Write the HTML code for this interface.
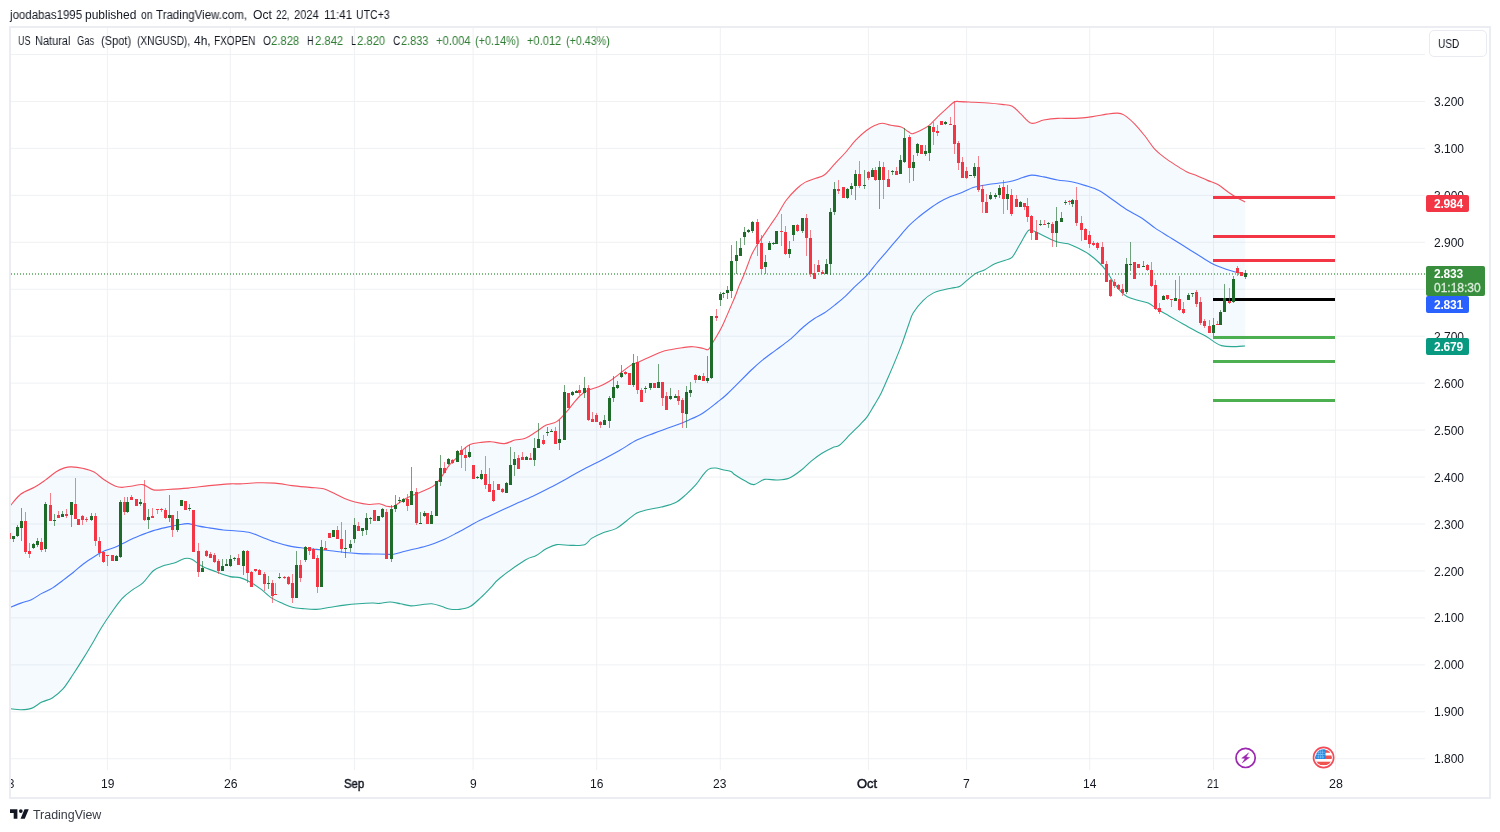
<!DOCTYPE html>
<html><head><meta charset="utf-8"><title>XNGUSD</title><style>
html,body{margin:0;padding:0;background:#fff;}
body{width:1500px;height:832px;position:relative;overflow:hidden;font-family:"Liberation Sans",sans-serif;color:#131722;}
.t{position:absolute;white-space:nowrap;font-size:12px;line-height:14px;}
.pl{position:absolute;left:1434px;font-size:12px;line-height:14px;will-change:transform;}
.tl{position:absolute;top:776px;font-size:12px;line-height:14px;transform:translateX(-50%) scaleX(0.86);white-space:nowrap;}
.tag{position:absolute;left:1426px;width:43px;height:17px;border-radius:2px;color:#fff;font-weight:bold;font-size:12px;line-height:18.4px;box-sizing:border-box;padding-left:8px;letter-spacing:-0.2px;will-change:transform;}
#clipx{position:absolute;left:11px;top:770px;width:1416px;height:27px;overflow:hidden;}
</style></head><body>
<svg width="1500" height="832" viewBox="0 0 1500 832" style="position:absolute;left:0;top:0;filter:blur(0.4px)">
<defs><clipPath id="pane"><rect x="10.5" y="27.5" width="1415" height="743"/></clipPath></defs>
<g fill="#f0f1f3">
<rect x="10" y="54.00" width="1415" height="1"/>
<rect x="10" y="100.95" width="1415" height="1"/>
<rect x="10" y="147.90" width="1415" height="1"/>
<rect x="10" y="194.85" width="1415" height="1"/>
<rect x="10" y="241.80" width="1415" height="1"/>
<rect x="10" y="288.75" width="1415" height="1"/>
<rect x="10" y="335.70" width="1415" height="1"/>
<rect x="10" y="382.65" width="1415" height="1"/>
<rect x="10" y="429.60" width="1415" height="1"/>
<rect x="10" y="476.55" width="1415" height="1"/>
<rect x="10" y="523.50" width="1415" height="1"/>
<rect x="10" y="570.45" width="1415" height="1"/>
<rect x="10" y="617.40" width="1415" height="1"/>
<rect x="10" y="664.35" width="1415" height="1"/>
<rect x="10" y="711.30" width="1415" height="1"/>
<rect x="10" y="758.25" width="1415" height="1"/>
<rect x="106.9" y="27" width="1" height="743"/>
<rect x="229.8" y="27" width="1" height="743"/>
<rect x="353.9" y="27" width="1" height="743"/>
<rect x="472.6" y="27" width="1" height="743"/>
<rect x="596.2" y="27" width="1" height="743"/>
<rect x="719.8" y="27" width="1" height="743"/>
<rect x="867.9" y="27" width="1" height="743"/>
<rect x="966.1" y="27" width="1" height="743"/>
<rect x="1089.2" y="27" width="1" height="743"/>
<rect x="1213.0" y="27" width="1" height="743"/>
<rect x="1335.0" y="27" width="1" height="743"/>
</g>
<g clip-path="url(#pane)">
<path d="M10.46,505.53 C12.2,503.61 16.85,497.1 20.91,494.03 C24.98,490.95 30.79,489.38 34.86,487.05 C38.92,484.73 41.83,482.58 45.31,480.08 C48.8,477.59 52.57,474.1 55.77,472.07 C58.96,470.03 61.87,468.76 64.48,467.88 C67.1,467.01 68.26,466.72 71.45,466.84 C74.65,466.95 79.88,467.71 83.65,468.58 C87.43,469.45 90.62,470.15 94.11,472.07 C97.59,473.98 101.08,477.76 104.57,480.08 C108.05,482.41 112.12,484.79 115.02,486.01 C117.93,487.23 119.09,487.4 121.99,487.4 C124.9,487.4 128.96,486.47 132.45,486.01 C135.94,485.54 139.42,483.98 142.91,484.61 C146.39,485.25 149.3,489.03 153.36,489.84 C157.43,490.66 161.5,489.79 167.31,489.49 C173.11,489.2 181.25,488.74 188.22,488.1 C195.19,487.46 202.16,486.36 209.13,485.66 C216.1,484.96 224.9,484.22 230.05,483.92 C235.19,483.62 235.44,484.05 240,483.87 C244.56,483.69 251.62,482.94 257.43,482.82 C263.24,482.71 269.05,482.71 274.86,483.17 C280.66,483.64 286.47,484.91 292.28,485.61 C298.09,486.31 304.48,486.83 309.71,487.35 C314.94,487.88 319.59,487.76 323.65,488.75 C327.72,489.74 330.62,491.65 334.11,493.28 C337.59,494.91 341.08,497.06 344.57,498.51 C348.05,499.96 350.96,501.01 355.02,501.99 C359.09,502.98 364.9,504.14 368.96,504.43 C373.03,504.72 376.52,503.45 379.42,503.74 C382.33,504.03 384.07,505.71 386.39,506.18 C388.72,506.64 391.04,507.22 393.36,506.52 C395.69,505.83 398.01,503.45 400.33,501.99 C402.66,500.54 404.4,499.26 407.31,497.81 C410.21,496.36 414.28,494.79 417.76,493.28 C421.25,491.77 425.31,490.2 428.22,488.75 C431.12,487.3 432.87,486.72 435.19,484.57 C437.51,482.42 439.84,479.05 442.16,475.85 C444.48,472.66 446.81,468.3 449.13,465.4 C451.46,462.49 453.78,461.04 456.1,458.42 C458.43,455.81 460.75,452.03 463.07,449.71 C465.4,447.39 467.22,445.68 470.05,444.48 C472.87,443.29 476.51,443 480,442.53 C483.49,442.07 486.89,441.52 490.96,441.69 C495.02,441.87 500.42,443.85 504.4,443.58 C508.38,443.31 511.37,440.97 514.86,440.09 C518.34,439.22 521.83,439.69 525.31,438.35 C528.8,437.02 532.28,434.28 535.77,432.08 C539.25,429.87 542.74,426.85 546.23,425.11 C549.71,423.36 553.2,423.94 556.68,421.62 C560.17,419.3 564.23,414.36 567.14,411.16 C570.04,407.97 571.79,405.18 574.11,402.45 C576.43,399.72 578.76,396.82 581.08,394.78 C583.4,392.75 585.15,391.59 588.05,390.25 C590.96,388.91 595.02,388.22 598.51,386.77 C601.99,385.31 605.48,383.69 608.96,381.54 C612.45,379.39 615.94,376.48 619.42,373.87 C622.91,371.25 626.39,367.94 629.88,365.85 C633.36,363.76 636.85,362.89 640.33,361.32 C643.82,359.75 647.31,358.01 650.79,356.44 C654.28,354.87 657.76,353.07 661.25,351.91 C664.73,350.75 668.22,350.17 671.7,349.47 C675.19,348.77 678.68,348.19 682.16,347.73 C685.65,347.26 689.13,346.57 692.62,346.68 C696.1,346.8 700.46,347.96 703.07,348.42 C705.69,348.89 706.6,350.61 708.3,349.47 C710.01,348.33 711.82,343.96 713.3,341.6 C714.78,339.24 715.77,337.78 717.2,335.3 C718.63,332.82 720.47,329.57 721.9,326.7 C723.33,323.83 724.37,321.35 725.8,318.1 C727.23,314.85 728.93,310.84 730.5,307.2 C732.07,303.56 733.78,299.77 735.2,296.25 C736.62,292.73 737.58,289.61 739,286.1 C740.42,282.59 742.3,278.72 743.75,275.2 C745.2,271.68 746.39,268.4 747.7,265 C749.01,261.6 750.18,257.93 751.6,254.8 C753.02,251.68 754.43,249.23 756.25,246.25 C758.07,243.27 760.16,240.41 762.5,236.9 C764.84,233.39 767.83,228.85 770.3,225.2 C772.77,221.55 774.65,219.16 777.3,215 C779.95,210.84 782.99,204.63 786.23,200.25 C789.46,195.88 793.49,191.77 796.68,188.75 C799.88,185.73 802.2,183.87 805.4,182.13 C808.59,180.38 812.66,179.51 815.85,178.29 C819.05,177.07 821.37,177.25 824.57,174.81 C827.76,172.37 831.54,167.37 835.02,163.65 C838.51,159.93 841.99,156.45 845.48,152.5 C848.96,148.55 852.45,143.61 855.94,139.95 C859.42,136.29 863.2,132.98 866.39,130.54 C869.59,128.1 872.49,126.53 875.11,125.31 C877.72,124.09 879.46,123.22 882.08,123.22 C884.69,123.22 887.6,124.67 890.79,125.31 C893.99,125.95 898.34,126.01 901.25,127.05 C904.15,128.1 906.36,130.48 908.22,131.59 C910.08,132.69 910.37,133.85 912.4,133.68 C914.43,133.5 917.63,131.93 920.42,130.54 C923.21,129.15 926.23,127.64 929.13,125.31 C932.04,122.99 934.94,119.39 937.85,116.6 C940.75,113.81 943.83,111.02 946.56,108.58 C949.29,106.14 951.99,103.12 954.23,101.96 C956.47,100.8 956.71,101.55 960,101.61 C963.29,101.67 969.29,102.08 973.94,102.31 C978.59,102.54 983.24,102.66 987.88,103 C992.53,103.35 997.76,103.88 1001.83,104.4 C1005.89,104.92 1009.09,104.51 1012.28,106.14 C1015.48,107.77 1017.8,111.31 1021,114.16 C1024.19,117 1027.68,122.23 1031.45,123.22 C1035.23,124.21 1039.3,120.9 1043.65,120.08 C1048.01,119.27 1052.37,118.63 1057.59,118.34 C1062.82,118.05 1069.21,118.63 1075.02,118.34 C1080.83,118.05 1087.22,117.3 1092.45,116.6 C1097.68,115.9 1102.33,114.74 1106.39,114.16 C1110.46,113.58 1113.94,113 1116.85,113.11 C1119.75,113.23 1120.92,113.11 1123.82,114.86 C1126.72,116.6 1130.79,120.08 1134.28,123.57 C1137.76,127.05 1141.25,131.41 1144.73,135.77 C1148.22,140.13 1151.7,145.93 1155.19,149.71 C1158.68,153.49 1162.16,155.81 1165.65,158.42 C1169.13,161.04 1172.62,163.19 1176.1,165.4 C1179.59,167.6 1183.07,169.93 1186.56,171.67 C1190.05,173.41 1193.53,174.4 1197.02,175.85 C1200.5,177.3 1203.99,178.93 1207.47,180.38 C1210.96,181.84 1214.44,182.59 1217.93,184.57 C1221.42,186.54 1225.19,190.03 1228.39,192.23 C1231.58,194.44 1234.31,196.18 1237.1,197.81 C1239.89,199.44 1243.78,201.3 1245.12,201.99 L1245.12,345.95 C1242.91,346.06 1235.82,346.7 1231.87,346.64 C1227.92,346.59 1224.32,346.35 1221.42,345.6 C1218.51,344.84 1216.77,343.51 1214.44,342.11 C1212.12,340.72 1210.38,338.98 1207.47,337.23 C1204.57,335.49 1201.08,333.86 1197.02,331.66 C1192.95,329.45 1187.72,326.6 1183.07,323.99 C1178.43,321.37 1173.2,318.29 1169.13,315.97 C1165.07,313.65 1162.16,312.19 1158.68,310.05 C1155.19,307.9 1151.7,304.7 1148.22,303.07 C1144.73,301.45 1141.25,301.33 1137.76,300.29 C1134.28,299.24 1130.21,298.37 1127.31,296.8 C1124.4,295.23 1122.66,293.31 1120.33,290.87 C1118.01,288.43 1115.69,285.47 1113.36,282.16 C1111.04,278.85 1108.72,274.2 1106.39,271.01 C1104.07,267.81 1102.33,265.78 1099.42,262.99 C1096.52,260.2 1092.45,256.72 1088.96,254.28 C1085.48,251.84 1081.99,250.09 1078.51,248.35 C1075.02,246.61 1071.54,244.87 1068.05,243.82 C1064.57,242.77 1061.08,243.12 1057.59,242.08 C1054.11,241.03 1050.62,239.17 1047.14,237.55 C1043.65,235.92 1039.59,233.6 1036.68,232.32 C1033.78,231.04 1031.45,229.7 1029.71,229.88 C1027.97,230.05 1027.97,230.75 1026.23,233.36 C1024.48,235.98 1021.58,241.61 1019.25,245.56 C1016.93,249.51 1014.61,254.63 1012.28,257.07 C1009.96,259.51 1008.22,259.1 1005.31,260.2 C1002.41,261.31 998.34,262.06 994.86,263.69 C991.37,265.31 987.59,268.34 984.4,269.96 C981.2,271.59 978.59,271.7 975.68,273.45 C972.78,275.19 969.59,278.27 966.97,280.42 C964.36,282.57 962.09,285.14 960,286.34 C957.91,287.55 957.11,287.08 954.44,287.64 C951.78,288.21 947.47,288.86 943.99,289.74 C940.5,290.61 937.02,291.07 933.53,292.87 C930.05,294.67 926.44,297.23 923.07,300.54 C919.7,303.85 915.64,308.96 913.31,312.74 C910.99,316.52 910.99,318.08 909.13,323.2 C907.27,328.31 904.48,337.14 902.16,343.41 C899.84,349.69 897.51,355.21 895.19,360.84 C892.87,366.47 890.54,371.88 888.22,377.22 C885.9,382.57 883.57,388.26 881.25,392.91 C878.92,397.55 876.6,401.16 874.28,405.11 C871.95,409.06 869.63,413.41 867.31,416.61 C864.98,419.8 863.24,421.26 860.33,424.28 C857.43,427.3 853.36,431.25 849.88,434.73 C846.39,438.22 842.33,443.04 839.42,445.19 C836.52,447.34 835.35,446.29 832.45,447.63 C829.55,448.97 825.48,451 821.99,453.21 C818.51,455.41 815.02,458.03 811.54,460.87 C808.05,463.72 804.86,467.38 801.08,470.29 C797.3,473.19 792.95,476.68 788.88,478.3 C784.81,479.93 780.75,479.87 776.68,480.05 C772.62,480.22 768.26,478.59 764.48,479.35 C760.71,480.1 757.22,484.29 754.03,484.58 C750.83,484.87 748.51,482.72 745.31,481.09 C742.12,479.46 737.25,476.42 734.86,474.82 C732.46,473.21 732.77,472.26 730.96,471.46 C729.15,470.67 726.6,470.65 723.99,470.07 C721.37,469.49 717.89,468.09 715.27,467.98 C712.66,467.86 710.34,468.21 708.3,469.37 C706.27,470.53 705.11,472.45 703.07,474.95 C701.04,477.45 699.01,481.05 696.1,484.36 C693.2,487.67 689.13,491.74 685.65,494.82 C682.16,497.9 679.26,500.8 675.19,502.83 C671.12,504.87 665.9,505.85 661.25,507.02 C656.6,508.18 651.37,508.82 647.31,509.8 C643.24,510.79 640.33,511.08 636.85,512.94 C633.36,514.8 629.88,518.34 626.39,520.96 C622.91,523.57 620,526.59 615.94,528.63 C611.87,530.66 606.06,531.53 601.99,533.16 C597.93,534.78 594.44,536.47 591.54,538.39 C588.63,540.3 588.05,543.5 584.57,544.66 C581.08,545.82 575.27,545.36 570.62,545.36 C565.98,545.36 560.75,544.08 556.68,544.66 C552.62,545.24 549.71,546.98 546.23,548.84 C542.74,550.7 539.25,553.95 535.77,555.81 C532.28,557.67 531.27,556.3 525.31,560 C519.35,563.69 505.75,573.41 500.02,577.98 C494.3,582.54 494.21,584.08 490.96,587.39 C487.71,590.7 483.99,594.65 480.5,597.85 C477.02,601.04 473.53,604.64 470.05,606.56 C466.56,608.48 463.07,608.94 459.59,609.35 C456.1,609.75 452.04,609.46 449.13,609 C446.23,608.53 445.07,607.43 442.16,606.56 C439.26,605.69 435.19,604.06 431.7,603.77 C428.22,603.48 424.73,604.47 421.25,604.82 C417.76,605.17 414.28,606.04 410.79,605.86 C407.31,605.69 403.82,604.41 400.33,603.77 C396.85,603.13 393.36,602.09 389.88,602.03 C386.39,601.97 382.33,603.25 379.42,603.42 C376.52,603.6 375.94,603.02 372.45,603.07 C368.96,603.13 363.16,603.42 358.51,603.77 C353.86,604.12 349.21,604.58 344.57,605.17 C339.92,605.75 335.27,606.56 330.62,607.26 C325.98,607.95 321.33,609.12 316.68,609.35 C312.03,609.58 306.81,609 302.74,608.65 C298.67,608.3 295.77,608.19 292.28,607.26 C288.8,606.33 285.31,604.64 281.83,603.07 C278.34,601.51 274.86,600.17 271.37,597.85 C267.88,595.52 264.4,591.75 260.91,589.13 C257.43,586.52 253.94,584.08 250.46,582.16 C246.97,580.24 243.4,578.55 240,577.63 C236.6,576.71 234.03,577.61 230.05,576.63 C226.06,575.65 220.75,573.5 216.1,571.75 C211.46,570.01 206.23,568.27 202.16,566.18 C198.09,564.09 194.61,560.48 191.7,559.21 C188.8,557.93 187.64,557.87 184.73,558.51 C181.83,559.15 177.76,561.88 174.28,563.04 C170.79,564.2 167.31,564.2 163.82,565.48 C160.33,566.76 156.85,567.8 153.36,570.71 C149.88,573.61 146.39,579.71 142.91,582.91 C139.42,586.1 135.94,587.26 132.45,589.88 C128.96,592.49 125.48,594.82 121.99,598.59 C118.51,602.37 115.02,607.6 111.54,612.53 C108.05,617.47 103.99,623.57 101.08,628.22 C98.18,632.87 97.01,635.48 94.11,640.42 C91.2,645.36 87.14,652.21 83.65,657.85 C80.17,663.48 76.68,669 73.2,674.23 C69.71,679.46 66.23,685.27 62.74,689.22 C59.25,693.17 55.77,695.78 52.28,697.93 C48.8,700.08 45.31,700.37 41.83,702.11 C38.34,703.86 34.86,707.11 31.37,708.39 C27.88,709.66 24.4,709.72 20.91,709.78 C17.43,709.84 12.2,708.91 10.46,708.73 Z" fill="#2196f3" fill-opacity="0.05" stroke="none"/>
<path d="M10.46,505.53 C12.2,503.61 16.85,497.1 20.91,494.03 C24.98,490.95 30.79,489.38 34.86,487.05 C38.92,484.73 41.83,482.58 45.31,480.08 C48.8,477.59 52.57,474.1 55.77,472.07 C58.96,470.03 61.87,468.76 64.48,467.88 C67.1,467.01 68.26,466.72 71.45,466.84 C74.65,466.95 79.88,467.71 83.65,468.58 C87.43,469.45 90.62,470.15 94.11,472.07 C97.59,473.98 101.08,477.76 104.57,480.08 C108.05,482.41 112.12,484.79 115.02,486.01 C117.93,487.23 119.09,487.4 121.99,487.4 C124.9,487.4 128.96,486.47 132.45,486.01 C135.94,485.54 139.42,483.98 142.91,484.61 C146.39,485.25 149.3,489.03 153.36,489.84 C157.43,490.66 161.5,489.79 167.31,489.49 C173.11,489.2 181.25,488.74 188.22,488.1 C195.19,487.46 202.16,486.36 209.13,485.66 C216.1,484.96 224.9,484.22 230.05,483.92 C235.19,483.62 235.44,484.05 240,483.87 C244.56,483.69 251.62,482.94 257.43,482.82 C263.24,482.71 269.05,482.71 274.86,483.17 C280.66,483.64 286.47,484.91 292.28,485.61 C298.09,486.31 304.48,486.83 309.71,487.35 C314.94,487.88 319.59,487.76 323.65,488.75 C327.72,489.74 330.62,491.65 334.11,493.28 C337.59,494.91 341.08,497.06 344.57,498.51 C348.05,499.96 350.96,501.01 355.02,501.99 C359.09,502.98 364.9,504.14 368.96,504.43 C373.03,504.72 376.52,503.45 379.42,503.74 C382.33,504.03 384.07,505.71 386.39,506.18 C388.72,506.64 391.04,507.22 393.36,506.52 C395.69,505.83 398.01,503.45 400.33,501.99 C402.66,500.54 404.4,499.26 407.31,497.81 C410.21,496.36 414.28,494.79 417.76,493.28 C421.25,491.77 425.31,490.2 428.22,488.75 C431.12,487.3 432.87,486.72 435.19,484.57 C437.51,482.42 439.84,479.05 442.16,475.85 C444.48,472.66 446.81,468.3 449.13,465.4 C451.46,462.49 453.78,461.04 456.1,458.42 C458.43,455.81 460.75,452.03 463.07,449.71 C465.4,447.39 467.22,445.68 470.05,444.48 C472.87,443.29 476.51,443 480,442.53 C483.49,442.07 486.89,441.52 490.96,441.69 C495.02,441.87 500.42,443.85 504.4,443.58 C508.38,443.31 511.37,440.97 514.86,440.09 C518.34,439.22 521.83,439.69 525.31,438.35 C528.8,437.02 532.28,434.28 535.77,432.08 C539.25,429.87 542.74,426.85 546.23,425.11 C549.71,423.36 553.2,423.94 556.68,421.62 C560.17,419.3 564.23,414.36 567.14,411.16 C570.04,407.97 571.79,405.18 574.11,402.45 C576.43,399.72 578.76,396.82 581.08,394.78 C583.4,392.75 585.15,391.59 588.05,390.25 C590.96,388.91 595.02,388.22 598.51,386.77 C601.99,385.31 605.48,383.69 608.96,381.54 C612.45,379.39 615.94,376.48 619.42,373.87 C622.91,371.25 626.39,367.94 629.88,365.85 C633.36,363.76 636.85,362.89 640.33,361.32 C643.82,359.75 647.31,358.01 650.79,356.44 C654.28,354.87 657.76,353.07 661.25,351.91 C664.73,350.75 668.22,350.17 671.7,349.47 C675.19,348.77 678.68,348.19 682.16,347.73 C685.65,347.26 689.13,346.57 692.62,346.68 C696.1,346.8 700.46,347.96 703.07,348.42 C705.69,348.89 706.6,350.61 708.3,349.47 C710.01,348.33 711.82,343.96 713.3,341.6 C714.78,339.24 715.77,337.78 717.2,335.3 C718.63,332.82 720.47,329.57 721.9,326.7 C723.33,323.83 724.37,321.35 725.8,318.1 C727.23,314.85 728.93,310.84 730.5,307.2 C732.07,303.56 733.78,299.77 735.2,296.25 C736.62,292.73 737.58,289.61 739,286.1 C740.42,282.59 742.3,278.72 743.75,275.2 C745.2,271.68 746.39,268.4 747.7,265 C749.01,261.6 750.18,257.93 751.6,254.8 C753.02,251.68 754.43,249.23 756.25,246.25 C758.07,243.27 760.16,240.41 762.5,236.9 C764.84,233.39 767.83,228.85 770.3,225.2 C772.77,221.55 774.65,219.16 777.3,215 C779.95,210.84 782.99,204.63 786.23,200.25 C789.46,195.88 793.49,191.77 796.68,188.75 C799.88,185.73 802.2,183.87 805.4,182.13 C808.59,180.38 812.66,179.51 815.85,178.29 C819.05,177.07 821.37,177.25 824.57,174.81 C827.76,172.37 831.54,167.37 835.02,163.65 C838.51,159.93 841.99,156.45 845.48,152.5 C848.96,148.55 852.45,143.61 855.94,139.95 C859.42,136.29 863.2,132.98 866.39,130.54 C869.59,128.1 872.49,126.53 875.11,125.31 C877.72,124.09 879.46,123.22 882.08,123.22 C884.69,123.22 887.6,124.67 890.79,125.31 C893.99,125.95 898.34,126.01 901.25,127.05 C904.15,128.1 906.36,130.48 908.22,131.59 C910.08,132.69 910.37,133.85 912.4,133.68 C914.43,133.5 917.63,131.93 920.42,130.54 C923.21,129.15 926.23,127.64 929.13,125.31 C932.04,122.99 934.94,119.39 937.85,116.6 C940.75,113.81 943.83,111.02 946.56,108.58 C949.29,106.14 951.99,103.12 954.23,101.96 C956.47,100.8 956.71,101.55 960,101.61 C963.29,101.67 969.29,102.08 973.94,102.31 C978.59,102.54 983.24,102.66 987.88,103 C992.53,103.35 997.76,103.88 1001.83,104.4 C1005.89,104.92 1009.09,104.51 1012.28,106.14 C1015.48,107.77 1017.8,111.31 1021,114.16 C1024.19,117 1027.68,122.23 1031.45,123.22 C1035.23,124.21 1039.3,120.9 1043.65,120.08 C1048.01,119.27 1052.37,118.63 1057.59,118.34 C1062.82,118.05 1069.21,118.63 1075.02,118.34 C1080.83,118.05 1087.22,117.3 1092.45,116.6 C1097.68,115.9 1102.33,114.74 1106.39,114.16 C1110.46,113.58 1113.94,113 1116.85,113.11 C1119.75,113.23 1120.92,113.11 1123.82,114.86 C1126.72,116.6 1130.79,120.08 1134.28,123.57 C1137.76,127.05 1141.25,131.41 1144.73,135.77 C1148.22,140.13 1151.7,145.93 1155.19,149.71 C1158.68,153.49 1162.16,155.81 1165.65,158.42 C1169.13,161.04 1172.62,163.19 1176.1,165.4 C1179.59,167.6 1183.07,169.93 1186.56,171.67 C1190.05,173.41 1193.53,174.4 1197.02,175.85 C1200.5,177.3 1203.99,178.93 1207.47,180.38 C1210.96,181.84 1214.44,182.59 1217.93,184.57 C1221.42,186.54 1225.19,190.03 1228.39,192.23 C1231.58,194.44 1234.31,196.18 1237.1,197.81 C1239.89,199.44 1243.78,201.3 1245.12,201.99" fill="none" stroke="#f23645" stroke-opacity="0.85" stroke-width="1.1"/>
<path d="M10.46,708.73 C12.2,708.91 17.43,709.84 20.91,709.78 C24.4,709.72 27.88,709.66 31.37,708.39 C34.86,707.11 38.34,703.86 41.83,702.11 C45.31,700.37 48.8,700.08 52.28,697.93 C55.77,695.78 59.25,693.17 62.74,689.22 C66.23,685.27 69.71,679.46 73.2,674.23 C76.68,669 80.17,663.48 83.65,657.85 C87.14,652.21 91.2,645.36 94.11,640.42 C97.01,635.48 98.18,632.87 101.08,628.22 C103.99,623.57 108.05,617.47 111.54,612.53 C115.02,607.6 118.51,602.37 121.99,598.59 C125.48,594.82 128.96,592.49 132.45,589.88 C135.94,587.26 139.42,586.1 142.91,582.91 C146.39,579.71 149.88,573.61 153.36,570.71 C156.85,567.8 160.33,566.76 163.82,565.48 C167.31,564.2 170.79,564.2 174.28,563.04 C177.76,561.88 181.83,559.15 184.73,558.51 C187.64,557.87 188.8,557.93 191.7,559.21 C194.61,560.48 198.09,564.09 202.16,566.18 C206.23,568.27 211.46,570.01 216.1,571.75 C220.75,573.5 226.06,575.65 230.05,576.63 C234.03,577.61 236.6,576.71 240,577.63 C243.4,578.55 246.97,580.24 250.46,582.16 C253.94,584.08 257.43,586.52 260.91,589.13 C264.4,591.75 267.88,595.52 271.37,597.85 C274.86,600.17 278.34,601.51 281.83,603.07 C285.31,604.64 288.8,606.33 292.28,607.26 C295.77,608.19 298.67,608.3 302.74,608.65 C306.81,609 312.03,609.58 316.68,609.35 C321.33,609.12 325.98,607.95 330.62,607.26 C335.27,606.56 339.92,605.75 344.57,605.17 C349.21,604.58 353.86,604.12 358.51,603.77 C363.16,603.42 368.96,603.13 372.45,603.07 C375.94,603.02 376.52,603.6 379.42,603.42 C382.33,603.25 386.39,601.97 389.88,602.03 C393.36,602.09 396.85,603.13 400.33,603.77 C403.82,604.41 407.31,605.69 410.79,605.86 C414.28,606.04 417.76,605.17 421.25,604.82 C424.73,604.47 428.22,603.48 431.7,603.77 C435.19,604.06 439.26,605.69 442.16,606.56 C445.07,607.43 446.23,608.53 449.13,609 C452.04,609.46 456.1,609.75 459.59,609.35 C463.07,608.94 466.56,608.48 470.05,606.56 C473.53,604.64 477.02,601.04 480.5,597.85 C483.99,594.65 487.71,590.7 490.96,587.39 C494.21,584.08 494.3,582.54 500.02,577.98 C505.75,573.41 519.35,563.69 525.31,560 C531.27,556.3 532.28,557.67 535.77,555.81 C539.25,553.95 542.74,550.7 546.23,548.84 C549.71,546.98 552.62,545.24 556.68,544.66 C560.75,544.08 565.98,545.36 570.62,545.36 C575.27,545.36 581.08,545.82 584.57,544.66 C588.05,543.5 588.63,540.3 591.54,538.39 C594.44,536.47 597.93,534.78 601.99,533.16 C606.06,531.53 611.87,530.66 615.94,528.63 C620,526.59 622.91,523.57 626.39,520.96 C629.88,518.34 633.36,514.8 636.85,512.94 C640.33,511.08 643.24,510.79 647.31,509.8 C651.37,508.82 656.6,508.18 661.25,507.02 C665.9,505.85 671.12,504.87 675.19,502.83 C679.26,500.8 682.16,497.9 685.65,494.82 C689.13,491.74 693.2,487.67 696.1,484.36 C699.01,481.05 701.04,477.45 703.07,474.95 C705.11,472.45 706.27,470.53 708.3,469.37 C710.34,468.21 712.66,467.86 715.27,467.98 C717.89,468.09 721.37,469.49 723.99,470.07 C726.6,470.65 729.15,470.67 730.96,471.46 C732.77,472.26 732.46,473.21 734.86,474.82 C737.25,476.42 742.12,479.46 745.31,481.09 C748.51,482.72 750.83,484.87 754.03,484.58 C757.22,484.29 760.71,480.1 764.48,479.35 C768.26,478.59 772.62,480.22 776.68,480.05 C780.75,479.87 784.81,479.93 788.88,478.3 C792.95,476.68 797.3,473.19 801.08,470.29 C804.86,467.38 808.05,463.72 811.54,460.87 C815.02,458.03 818.51,455.41 821.99,453.21 C825.48,451 829.55,448.97 832.45,447.63 C835.35,446.29 836.52,447.34 839.42,445.19 C842.33,443.04 846.39,438.22 849.88,434.73 C853.36,431.25 857.43,427.3 860.33,424.28 C863.24,421.26 864.98,419.8 867.31,416.61 C869.63,413.41 871.95,409.06 874.28,405.11 C876.6,401.16 878.92,397.55 881.25,392.91 C883.57,388.26 885.9,382.57 888.22,377.22 C890.54,371.88 892.87,366.47 895.19,360.84 C897.51,355.21 899.84,349.69 902.16,343.41 C904.48,337.14 907.27,328.31 909.13,323.2 C910.99,318.08 910.99,316.52 913.31,312.74 C915.64,308.96 919.7,303.85 923.07,300.54 C926.44,297.23 930.05,294.67 933.53,292.87 C937.02,291.07 940.5,290.61 943.99,289.74 C947.47,288.86 951.78,288.21 954.44,287.64 C957.11,287.08 957.91,287.55 960,286.34 C962.09,285.14 964.36,282.57 966.97,280.42 C969.59,278.27 972.78,275.19 975.68,273.45 C978.59,271.7 981.2,271.59 984.4,269.96 C987.59,268.34 991.37,265.31 994.86,263.69 C998.34,262.06 1002.41,261.31 1005.31,260.2 C1008.22,259.1 1009.96,259.51 1012.28,257.07 C1014.61,254.63 1016.93,249.51 1019.25,245.56 C1021.58,241.61 1024.48,235.98 1026.23,233.36 C1027.97,230.75 1027.97,230.05 1029.71,229.88 C1031.45,229.7 1033.78,231.04 1036.68,232.32 C1039.59,233.6 1043.65,235.92 1047.14,237.55 C1050.62,239.17 1054.11,241.03 1057.59,242.08 C1061.08,243.12 1064.57,242.77 1068.05,243.82 C1071.54,244.87 1075.02,246.61 1078.51,248.35 C1081.99,250.09 1085.48,251.84 1088.96,254.28 C1092.45,256.72 1096.52,260.2 1099.42,262.99 C1102.33,265.78 1104.07,267.81 1106.39,271.01 C1108.72,274.2 1111.04,278.85 1113.36,282.16 C1115.69,285.47 1118.01,288.43 1120.33,290.87 C1122.66,293.31 1124.4,295.23 1127.31,296.8 C1130.21,298.37 1134.28,299.24 1137.76,300.29 C1141.25,301.33 1144.73,301.45 1148.22,303.07 C1151.7,304.7 1155.19,307.9 1158.68,310.05 C1162.16,312.19 1165.07,313.65 1169.13,315.97 C1173.2,318.29 1178.43,321.37 1183.07,323.99 C1187.72,326.6 1192.95,329.45 1197.02,331.66 C1201.08,333.86 1204.57,335.49 1207.47,337.23 C1210.38,338.98 1212.12,340.72 1214.44,342.11 C1216.77,343.51 1218.51,344.84 1221.42,345.6 C1224.32,346.35 1227.92,346.59 1231.87,346.64 C1235.82,346.7 1242.91,346.06 1245.12,345.95" fill="none" stroke="#089981" stroke-opacity="0.85" stroke-width="1.1"/>
<path d="M10.46,607.31 C12.2,606.61 17.43,604.4 20.91,603.12 C24.4,601.85 27.88,601.26 31.37,599.64 C34.86,598.01 38.34,595.28 41.83,593.36 C45.31,591.45 48.8,590.28 52.28,588.14 C55.77,585.99 59.25,583.08 62.74,580.47 C66.23,577.85 69.71,575.24 73.2,572.45 C76.68,569.66 80.17,566.35 83.65,563.74 C87.14,561.12 90.62,558.91 94.11,556.77 C97.59,554.62 101.08,552.41 104.57,550.84 C108.05,549.27 111.54,548.81 115.02,547.35 C118.51,545.9 121.41,544.04 125.48,542.13 C129.55,540.21 134.77,537.77 139.42,535.85 C144.07,533.94 148.72,532.08 153.36,530.62 C158.01,529.17 163.24,528.07 167.31,527.14 C171.37,526.21 174.28,525.63 177.76,525.05 C181.25,524.47 184.73,523.48 188.22,523.65 C191.7,523.83 195.19,525.4 198.68,526.09 C202.16,526.79 205.07,527.2 209.13,527.84 C213.2,528.47 218.43,529.4 223.07,529.93 C227.72,530.45 232.45,530.52 237.02,530.97 C241.58,531.43 246.47,531.69 250.46,532.67 C254.44,533.65 256.85,535.28 260.91,536.85 C264.98,538.42 270.21,540.57 274.86,542.08 C279.5,543.59 284.15,544.92 288.8,545.91 C293.44,546.9 298.09,547.42 302.74,548 C307.39,548.58 312.03,548.93 316.68,549.4 C321.33,549.86 325.98,550.27 330.62,550.79 C335.27,551.31 339.92,552.07 344.57,552.53 C349.21,553 353.86,553.35 358.51,553.58 C363.16,553.81 367.8,553.81 372.45,553.93 C377.1,554.04 382.91,554.22 386.39,554.28 C389.88,554.33 390.46,554.74 393.36,554.28 C396.27,553.81 400.33,552.36 403.82,551.49 C407.31,550.62 410.21,550.04 414.28,549.05 C418.34,548.06 423.57,547.02 428.22,545.56 C432.87,544.11 437.51,542.37 442.16,540.33 C446.81,538.3 451.46,535.8 456.1,533.36 C460.75,530.92 466.06,527.88 470.05,525.7 C474.03,523.51 475.44,522.5 480,520.26 C484.56,518.02 491.62,514.92 497.43,512.24 C503.24,509.57 509.05,506.84 514.86,504.23 C520.66,501.61 526.47,499.29 532.28,496.56 C538.09,493.83 543.9,490.87 549.71,487.85 C555.52,484.83 561.33,481.63 567.14,478.43 C572.95,475.24 578.76,471.75 584.57,468.68 C590.38,465.6 596.18,462.98 601.99,459.96 C607.8,456.94 613.61,453.86 619.42,450.55 C625.23,447.24 631.04,443 636.85,440.09 C642.66,437.19 648.47,435.33 654.28,433.12 C660.09,430.92 665.9,429.06 671.7,426.85 C677.51,424.64 683.9,422.2 689.13,419.88 C694.36,417.55 698.43,415.81 703.07,412.91 C707.72,410 712.95,405.65 717.02,402.45 C721.08,399.26 721.75,399.15 727.47,393.74 C733.2,388.33 745.64,375.52 751.37,370 C757.1,364.47 757.76,363.9 761.83,360.59 C765.89,357.27 771.12,353.61 775.77,350.13 C780.42,346.64 785.06,343.56 789.71,339.67 C794.36,335.78 799.59,330.26 803.65,326.78 C807.72,323.29 810.62,321.08 814.11,318.76 C817.59,316.44 821.08,315.16 824.57,312.83 C828.05,310.51 831.54,307.61 835.02,304.82 C838.51,302.03 841.99,299.3 845.48,296.1 C848.96,292.91 852.45,289.02 855.94,285.65 C859.42,282.28 862.91,279.66 866.39,275.89 C869.88,272.11 873.36,267.17 876.85,262.99 C880.33,258.81 883.82,254.86 887.31,250.79 C890.79,246.72 894.28,242.66 897.76,238.59 C901.25,234.53 904.73,229.99 908.22,226.39 C911.7,222.79 915.19,219.89 918.68,216.98 C922.16,214.08 925.65,211.46 929.13,208.96 C932.62,206.47 936.1,204.03 939.59,201.99 C943.07,199.96 946.64,198.22 950.05,196.77 C953.45,195.31 956.02,194.85 960,193.28 C963.98,191.71 969.29,188.81 973.94,187.35 C978.59,185.9 983.24,185.32 987.88,184.57 C992.53,183.81 997.76,183.4 1001.83,182.82 C1005.89,182.24 1008.8,181.95 1012.28,181.08 C1015.77,180.21 1019.54,178.58 1022.74,177.59 C1025.93,176.61 1027.97,175.27 1031.45,175.16 C1034.94,175.04 1039.3,176.08 1043.65,176.9 C1048.01,177.71 1052.95,179.22 1057.59,180.03 C1062.24,180.85 1066.89,180.85 1071.54,181.78 C1076.18,182.71 1080.83,184.1 1085.48,185.61 C1090.13,187.12 1094.77,188.4 1099.42,190.84 C1104.07,193.28 1108.72,197.06 1113.36,200.25 C1118.01,203.45 1122.66,207.11 1127.31,210.01 C1131.95,212.92 1136.6,214.66 1141.25,217.68 C1145.9,220.7 1150.54,224.94 1155.19,228.14 C1159.84,231.33 1164.48,233.94 1169.13,236.85 C1173.78,239.75 1178.43,242.66 1183.07,245.56 C1187.72,248.47 1192.37,251.37 1197.02,254.28 C1201.66,257.18 1206.89,260.78 1210.96,262.99 C1215.02,265.2 1217.93,266.19 1221.42,267.52 C1224.9,268.86 1228.97,270.14 1231.87,271.01 C1234.78,271.88 1236.64,272.23 1238.84,272.75 C1241.05,273.27 1244.07,273.91 1245.12,274.14" fill="none" stroke="#2962ff" stroke-opacity="0.85" stroke-width="1.1"/>
<line x1="11" y1="274" x2="1426" y2="274" stroke="#55a35a" stroke-width="1.5" stroke-dasharray="1 2"/>
<g shape-rendering="crispEdges">
<rect x="1213" y="196" width="122" height="3" fill="#f23645"/>
<rect x="1213" y="235" width="122" height="3" fill="#f23645"/>
<rect x="1213" y="259" width="122" height="3" fill="#f23645"/>
<rect x="1213" y="298" width="122" height="3" fill="#000"/>
<rect x="1213" y="336" width="122" height="3" fill="#4caf50"/>
<rect x="1213" y="360" width="122" height="3" fill="#4caf50"/>
<rect x="1213" y="399" width="122" height="3" fill="#4caf50"/>
</g>
<g shape-rendering="crispEdges" opacity="0.62"><rect x="13" y="536" width="1" height="6" fill="#1e6b2a"/><rect x="17" y="525" width="1" height="12" fill="#1e6b2a"/><rect x="21" y="508" width="1" height="33" fill="#1e6b2a"/><rect x="25" y="512" width="1" height="42" fill="#f23645"/><rect x="29" y="543" width="1" height="15" fill="#f23645"/><rect x="33" y="543" width="1" height="6" fill="#1e6b2a"/><rect x="37" y="538" width="1" height="9" fill="#1e6b2a"/><rect x="41" y="538" width="1" height="14" fill="#f23645"/><rect x="45" y="502" width="1" height="50" fill="#1e6b2a"/><rect x="50" y="493" width="1" height="28" fill="#f23645"/><rect x="54" y="514" width="1" height="12" fill="#1e6b2a"/><rect x="58" y="511" width="1" height="7" fill="#f23645"/><rect x="62" y="511" width="1" height="6" fill="#1e6b2a"/><rect x="66" y="509" width="1" height="9" fill="#f23645"/><rect x="71" y="502" width="1" height="25" fill="#1e6b2a"/><rect x="75" y="478" width="1" height="41" fill="#f23645"/><rect x="82" y="515" width="1" height="10" fill="#f23645"/><rect x="86" y="517" width="1" height="5" fill="#f23645"/><rect x="91" y="513" width="1" height="8" fill="#1e6b2a"/><rect x="95" y="513" width="1" height="33" fill="#f23645"/><rect x="99" y="537" width="1" height="20" fill="#f23645"/><rect x="103" y="551" width="1" height="12" fill="#f23645"/><rect x="107" y="555" width="1" height="11" fill="#f23645"/><rect x="116" y="555" width="1" height="6" fill="#1e6b2a"/><rect x="120" y="500" width="1" height="58" fill="#1e6b2a"/><rect x="124" y="497" width="1" height="18" fill="#f23645"/><rect x="127" y="497" width="1" height="16" fill="#1e6b2a"/><rect x="131" y="495" width="1" height="5" fill="#f23645"/><rect x="140" y="499" width="1" height="7" fill="#1e6b2a"/><rect x="144" y="480" width="1" height="41" fill="#f23645"/><rect x="148" y="509" width="1" height="20" fill="#1e6b2a"/><rect x="152" y="508" width="1" height="10" fill="#f23645"/><rect x="157" y="509" width="1" height="5" fill="#f23645"/><rect x="161" y="508" width="1" height="4" fill="#f23645"/><rect x="165" y="508" width="1" height="11" fill="#f23645"/><rect x="169" y="495" width="1" height="27" fill="#1e6b2a"/><rect x="172" y="515" width="1" height="22" fill="#f23645"/><rect x="177" y="511" width="1" height="21" fill="#1e6b2a"/><rect x="189" y="504" width="1" height="7" fill="#1e6b2a"/><rect x="198" y="543" width="1" height="34" fill="#f23645"/><rect x="202" y="561" width="1" height="11" fill="#1e6b2a"/><rect x="206" y="550" width="1" height="7" fill="#f23645"/><rect x="210" y="552" width="1" height="6" fill="#f23645"/><rect x="214" y="553" width="1" height="10" fill="#f23645"/><rect x="218" y="559" width="1" height="15" fill="#f23645"/><rect x="222" y="559" width="1" height="12" fill="#1e6b2a"/><rect x="226" y="559" width="1" height="7" fill="#1e6b2a"/><rect x="230" y="555" width="1" height="12" fill="#1e6b2a"/><rect x="234" y="557" width="1" height="4" fill="#1e6b2a"/><rect x="238" y="554" width="1" height="11" fill="#f23645"/><rect x="243" y="550" width="1" height="25" fill="#1e6b2a"/><rect x="247" y="550" width="1" height="33" fill="#f23645"/><rect x="251" y="571" width="1" height="16" fill="#f23645"/><rect x="255" y="569" width="1" height="3" fill="#f23645"/><rect x="259" y="569" width="1" height="6" fill="#f23645"/><rect x="264" y="572" width="1" height="19" fill="#f23645"/><rect x="268" y="576" width="1" height="13" fill="#1e6b2a"/><rect x="272" y="580" width="1" height="23" fill="#f23645"/><rect x="275" y="583" width="1" height="12" fill="#f23645"/><rect x="279" y="573" width="1" height="6" fill="#1e6b2a"/><rect x="284" y="576" width="1" height="3" fill="#f23645"/><rect x="288" y="576" width="1" height="9" fill="#f23645"/><rect x="292" y="574" width="1" height="29" fill="#f23645"/><rect x="296" y="551" width="1" height="47" fill="#1e6b2a"/><rect x="300" y="560" width="1" height="22" fill="#f23645"/><rect x="305" y="546" width="1" height="16" fill="#1e6b2a"/><rect x="309" y="547" width="1" height="8" fill="#f23645"/><rect x="313" y="548" width="1" height="11" fill="#f23645"/><rect x="317" y="555" width="1" height="38" fill="#f23645"/><rect x="321" y="540" width="1" height="47" fill="#1e6b2a"/><rect x="325" y="541" width="1" height="9" fill="#f23645"/><rect x="337" y="526" width="1" height="13" fill="#f23645"/><rect x="341" y="522" width="1" height="31" fill="#f23645"/><rect x="345" y="530" width="1" height="28" fill="#1e6b2a"/><rect x="350" y="540" width="1" height="12" fill="#1e6b2a"/><rect x="354" y="518" width="1" height="25" fill="#1e6b2a"/><rect x="358" y="522" width="1" height="9" fill="#f23645"/><rect x="362" y="528" width="1" height="8" fill="#1e6b2a"/><rect x="366" y="513" width="1" height="22" fill="#1e6b2a"/><rect x="370" y="517" width="1" height="7" fill="#1e6b2a"/><rect x="382" y="508" width="1" height="10" fill="#1e6b2a"/><rect x="386" y="509" width="1" height="50" fill="#f23645"/><rect x="391" y="505" width="1" height="57" fill="#1e6b2a"/><rect x="395" y="495" width="1" height="17" fill="#1e6b2a"/><rect x="399" y="497" width="1" height="6" fill="#1e6b2a"/><rect x="403" y="498" width="1" height="5" fill="#1e6b2a"/><rect x="407" y="494" width="1" height="17" fill="#f23645"/><rect x="411" y="467" width="1" height="38" fill="#1e6b2a"/><rect x="416" y="488" width="1" height="37" fill="#f23645"/><rect x="420" y="512" width="1" height="12" fill="#1e6b2a"/><rect x="424" y="511" width="1" height="6" fill="#1e6b2a"/><rect x="431" y="511" width="1" height="13" fill="#1e6b2a"/><rect x="440" y="455" width="1" height="31" fill="#1e6b2a"/><rect x="444" y="462" width="1" height="11" fill="#f23645"/><rect x="448" y="458" width="1" height="7" fill="#1e6b2a"/><rect x="452" y="459" width="1" height="5" fill="#f23645"/><rect x="457" y="450" width="1" height="12" fill="#1e6b2a"/><rect x="461" y="446" width="1" height="22" fill="#f23645"/><rect x="465" y="447" width="1" height="24" fill="#f23645"/><rect x="469" y="445" width="1" height="13" fill="#1e6b2a"/><rect x="477" y="476" width="1" height="3" fill="#1e6b2a"/><rect x="481" y="470" width="1" height="10" fill="#1e6b2a"/><rect x="485" y="456" width="1" height="33" fill="#f23645"/><rect x="489" y="468" width="1" height="24" fill="#f23645"/><rect x="493" y="481" width="1" height="21" fill="#f23645"/><rect x="502" y="488" width="1" height="5" fill="#f23645"/><rect x="506" y="482" width="1" height="11" fill="#1e6b2a"/><rect x="510" y="447" width="1" height="38" fill="#1e6b2a"/><rect x="514" y="452" width="1" height="24" fill="#1e6b2a"/><rect x="518" y="455" width="1" height="14" fill="#f23645"/><rect x="522" y="452" width="1" height="8" fill="#f23645"/><rect x="526" y="456" width="1" height="4" fill="#1e6b2a"/><rect x="530" y="453" width="1" height="7" fill="#f23645"/><rect x="534" y="438" width="1" height="28" fill="#1e6b2a"/><rect x="538" y="423" width="1" height="25" fill="#1e6b2a"/><rect x="543" y="435" width="1" height="10" fill="#f23645"/><rect x="547" y="427" width="1" height="9" fill="#1e6b2a"/><rect x="551" y="429" width="1" height="3" fill="#1e6b2a"/><rect x="555" y="427" width="1" height="17" fill="#f23645"/><rect x="559" y="420" width="1" height="30" fill="#1e6b2a"/><rect x="564" y="385" width="1" height="55" fill="#1e6b2a"/><rect x="572" y="391" width="1" height="5" fill="#1e6b2a"/><rect x="576" y="390" width="1" height="3" fill="#1e6b2a"/><rect x="579" y="385" width="1" height="10" fill="#f23645"/><rect x="584" y="377" width="1" height="21" fill="#1e6b2a"/><rect x="588" y="385" width="1" height="36" fill="#f23645"/><rect x="592" y="412" width="1" height="10" fill="#f23645"/><rect x="596" y="413" width="1" height="9" fill="#f23645"/><rect x="600" y="421" width="1" height="7" fill="#f23645"/><rect x="604" y="415" width="1" height="10" fill="#1e6b2a"/><rect x="609" y="396" width="1" height="32" fill="#1e6b2a"/><rect x="613" y="376" width="1" height="26" fill="#1e6b2a"/><rect x="617" y="381" width="1" height="8" fill="#1e6b2a"/><rect x="621" y="365" width="1" height="13" fill="#1e6b2a"/><rect x="625" y="371" width="1" height="4" fill="#f23645"/><rect x="633" y="354" width="1" height="33" fill="#1e6b2a"/><rect x="637" y="356" width="1" height="38" fill="#f23645"/><rect x="641" y="388" width="1" height="14" fill="#f23645"/><rect x="645" y="386" width="1" height="7" fill="#1e6b2a"/><rect x="650" y="383" width="1" height="7" fill="#1e6b2a"/><rect x="658" y="364" width="1" height="24" fill="#1e6b2a"/><rect x="662" y="382" width="1" height="24" fill="#f23645"/><rect x="666" y="392" width="1" height="18" fill="#f23645"/><rect x="670" y="388" width="1" height="12" fill="#1e6b2a"/><rect x="675" y="394" width="1" height="4" fill="#1e6b2a"/><rect x="678" y="390" width="1" height="15" fill="#f23645"/><rect x="682" y="398" width="1" height="30" fill="#f23645"/><rect x="686" y="386" width="1" height="42" fill="#1e6b2a"/><rect x="690" y="382" width="1" height="15" fill="#1e6b2a"/><rect x="695" y="374" width="1" height="9" fill="#f23645"/><rect x="699" y="375" width="1" height="5" fill="#1e6b2a"/><rect x="703" y="373" width="1" height="8" fill="#f23645"/><rect x="707" y="356" width="1" height="27" fill="#1e6b2a"/><rect x="711" y="316" width="1" height="63" fill="#1e6b2a"/><rect x="716" y="309" width="1" height="12" fill="#f23645"/><rect x="720" y="292" width="1" height="14" fill="#1e6b2a"/><rect x="723" y="292" width="1" height="6" fill="#1e6b2a"/><rect x="727" y="286" width="1" height="13" fill="#1e6b2a"/><rect x="731" y="245" width="1" height="53" fill="#1e6b2a"/><rect x="736" y="241" width="1" height="33" fill="#1e6b2a"/><rect x="740" y="238" width="1" height="18" fill="#1e6b2a"/><rect x="744" y="227" width="1" height="18" fill="#1e6b2a"/><rect x="748" y="229" width="1" height="4" fill="#1e6b2a"/><rect x="752" y="221" width="1" height="12" fill="#1e6b2a"/><rect x="757" y="219" width="1" height="37" fill="#f23645"/><rect x="761" y="235" width="1" height="39" fill="#f23645"/><rect x="765" y="255" width="1" height="19" fill="#1e6b2a"/><rect x="769" y="241" width="1" height="9" fill="#1e6b2a"/><rect x="773" y="242" width="1" height="3" fill="#1e6b2a"/><rect x="781" y="214" width="1" height="32" fill="#f23645"/><rect x="785" y="226" width="1" height="29" fill="#f23645"/><rect x="789" y="241" width="1" height="17" fill="#1e6b2a"/><rect x="793" y="225" width="1" height="16" fill="#1e6b2a"/><rect x="797" y="224" width="1" height="8" fill="#f23645"/><rect x="802" y="218" width="1" height="15" fill="#1e6b2a"/><rect x="806" y="214" width="1" height="42" fill="#f23645"/><rect x="810" y="230" width="1" height="47" fill="#f23645"/><rect x="814" y="264" width="1" height="15" fill="#f23645"/><rect x="818" y="260" width="1" height="12" fill="#f23645"/><rect x="822" y="270" width="1" height="4" fill="#f23645"/><rect x="826" y="259" width="1" height="15" fill="#1e6b2a"/><rect x="830" y="208" width="1" height="67" fill="#1e6b2a"/><rect x="834" y="182" width="1" height="33" fill="#1e6b2a"/><rect x="838" y="180" width="1" height="14" fill="#f23645"/><rect x="847" y="188" width="1" height="11" fill="#1e6b2a"/><rect x="851" y="183" width="1" height="12" fill="#1e6b2a"/><rect x="855" y="170" width="1" height="30" fill="#1e6b2a"/><rect x="859" y="161" width="1" height="27" fill="#f23645"/><rect x="864" y="170" width="1" height="19" fill="#1e6b2a"/><rect x="868" y="171" width="1" height="9" fill="#f23645"/><rect x="872" y="168" width="1" height="9" fill="#1e6b2a"/><rect x="875" y="167" width="1" height="14" fill="#f23645"/><rect x="879" y="161" width="1" height="48" fill="#1e6b2a"/><rect x="883" y="162" width="1" height="37" fill="#f23645"/><rect x="888" y="170" width="1" height="17" fill="#f23645"/><rect x="892" y="170" width="1" height="5" fill="#1e6b2a"/><rect x="896" y="167" width="1" height="8" fill="#f23645"/><rect x="900" y="155" width="1" height="19" fill="#1e6b2a"/><rect x="904" y="128" width="1" height="35" fill="#1e6b2a"/><rect x="909" y="135" width="1" height="48" fill="#f23645"/><rect x="913" y="155" width="1" height="26" fill="#1e6b2a"/><rect x="917" y="143" width="1" height="13" fill="#1e6b2a"/><rect x="925" y="145" width="1" height="11" fill="#1e6b2a"/><rect x="929" y="126" width="1" height="35" fill="#1e6b2a"/><rect x="933" y="122" width="1" height="23" fill="#f23645"/><rect x="937" y="125" width="1" height="11" fill="#f23645"/><rect x="945" y="121" width="1" height="4" fill="#1e6b2a"/><rect x="950" y="117" width="1" height="8" fill="#f23645"/><rect x="954" y="101" width="1" height="53" fill="#f23645"/><rect x="958" y="141" width="1" height="29" fill="#f23645"/><rect x="962" y="157" width="1" height="21" fill="#f23645"/><rect x="966" y="167" width="1" height="12" fill="#f23645"/><rect x="974" y="163" width="1" height="15" fill="#1e6b2a"/><rect x="978" y="156" width="1" height="36" fill="#f23645"/><rect x="982" y="185" width="1" height="28" fill="#f23645"/><rect x="986" y="194" width="1" height="19" fill="#f23645"/><rect x="990" y="192" width="1" height="8" fill="#1e6b2a"/><rect x="995" y="193" width="1" height="6" fill="#1e6b2a"/><rect x="999" y="185" width="1" height="13" fill="#1e6b2a"/><rect x="1003" y="180" width="1" height="34" fill="#f23645"/><rect x="1007" y="185" width="1" height="25" fill="#1e6b2a"/><rect x="1011" y="189" width="1" height="27" fill="#f23645"/><rect x="1016" y="195" width="1" height="12" fill="#f23645"/><rect x="1020" y="201" width="1" height="6" fill="#1e6b2a"/><rect x="1024" y="203" width="1" height="7" fill="#f23645"/><rect x="1027" y="198" width="1" height="24" fill="#f23645"/><rect x="1031" y="215" width="1" height="25" fill="#f23645"/><rect x="1036" y="220" width="1" height="20" fill="#f23645"/><rect x="1040" y="220" width="1" height="6" fill="#1e6b2a"/><rect x="1044" y="220" width="1" height="5" fill="#f23645"/><rect x="1048" y="222" width="1" height="6" fill="#1e6b2a"/><rect x="1052" y="222" width="1" height="25" fill="#f23645"/><rect x="1056" y="207" width="1" height="40" fill="#1e6b2a"/><rect x="1061" y="212" width="1" height="10" fill="#1e6b2a"/><rect x="1065" y="200" width="1" height="5" fill="#1e6b2a"/><rect x="1069" y="200" width="1" height="5" fill="#f23645"/><rect x="1072" y="199" width="1" height="8" fill="#1e6b2a"/><rect x="1076" y="187" width="1" height="39" fill="#f23645"/><rect x="1081" y="216" width="1" height="25" fill="#f23645"/><rect x="1085" y="228" width="1" height="12" fill="#f23645"/><rect x="1089" y="231" width="1" height="17" fill="#f23645"/><rect x="1093" y="241" width="1" height="5" fill="#f23645"/><rect x="1097" y="242" width="1" height="8" fill="#f23645"/><rect x="1102" y="242" width="1" height="22" fill="#f23645"/><rect x="1106" y="261" width="1" height="21" fill="#f23645"/><rect x="1110" y="279" width="1" height="18" fill="#f23645"/><rect x="1114" y="279" width="1" height="9" fill="#f23645"/><rect x="1118" y="284" width="1" height="6" fill="#f23645"/><rect x="1122" y="284" width="1" height="12" fill="#f23645"/><rect x="1126" y="258" width="1" height="36" fill="#1e6b2a"/><rect x="1130" y="242" width="1" height="29" fill="#1e6b2a"/><rect x="1143" y="261" width="1" height="6" fill="#1e6b2a"/><rect x="1147" y="264" width="1" height="7" fill="#f23645"/><rect x="1151" y="262" width="1" height="25" fill="#f23645"/><rect x="1155" y="280" width="1" height="30" fill="#f23645"/><rect x="1159" y="303" width="1" height="11" fill="#f23645"/><rect x="1163" y="295" width="1" height="5" fill="#1e6b2a"/><rect x="1167" y="295" width="1" height="5" fill="#f23645"/><rect x="1171" y="299" width="1" height="8" fill="#f23645"/><rect x="1175" y="280" width="1" height="21" fill="#1e6b2a"/><rect x="1179" y="276" width="1" height="35" fill="#f23645"/><rect x="1183" y="302" width="1" height="12" fill="#f23645"/><rect x="1188" y="293" width="1" height="7" fill="#1e6b2a"/><rect x="1192" y="293" width="1" height="4" fill="#1e6b2a"/><rect x="1196" y="290" width="1" height="17" fill="#f23645"/><rect x="1200" y="297" width="1" height="28" fill="#f23645"/><rect x="1204" y="319" width="1" height="9" fill="#f23645"/><rect x="1209" y="320" width="1" height="13" fill="#f23645"/><rect x="1213" y="318" width="1" height="18" fill="#1e6b2a"/><rect x="1217" y="321" width="1" height="4" fill="#f23645"/><rect x="1220" y="310" width="1" height="15" fill="#1e6b2a"/><rect x="1224" y="284" width="1" height="28" fill="#1e6b2a"/><rect x="1229" y="288" width="1" height="16" fill="#f23645"/><rect x="1233" y="276" width="1" height="27" fill="#1e6b2a"/><rect x="1237" y="266" width="1" height="10" fill="#f23645"/><rect x="1245" y="270" width="1" height="9" fill="#1e6b2a"/></g>
<g shape-rendering="crispEdges"><rect x="8" y="533" width="3" height="5" fill="#f23645"/><rect x="12" y="536" width="3" height="3" fill="#1e6b2a"/><rect x="16" y="527" width="3" height="9" fill="#1e6b2a"/><rect x="20" y="521" width="3" height="7" fill="#1e6b2a"/><rect x="24" y="521" width="3" height="31" fill="#f23645"/><rect x="28" y="551" width="3" height="3" fill="#f23645"/><rect x="32" y="544" width="3" height="4" fill="#1e6b2a"/><rect x="36" y="541" width="3" height="4" fill="#1e6b2a"/><rect x="40" y="542" width="3" height="8" fill="#f23645"/><rect x="44" y="504" width="3" height="45" fill="#1e6b2a"/><rect x="49" y="505" width="3" height="16" fill="#f23645"/><rect x="53" y="520" width="3" height="1" fill="#1e6b2a"/><rect x="57" y="515" width="3" height="3" fill="#f23645"/><rect x="61" y="514" width="3" height="3" fill="#1e6b2a"/><rect x="65" y="514" width="3" height="2" fill="#f23645"/><rect x="70" y="502" width="3" height="13" fill="#1e6b2a"/><rect x="74" y="504" width="3" height="15" fill="#f23645"/><rect x="77" y="519" width="3" height="6" fill="#f23645"/><rect x="81" y="516" width="3" height="4" fill="#f23645"/><rect x="85" y="519" width="3" height="1" fill="#f23645"/><rect x="90" y="516" width="3" height="4" fill="#1e6b2a"/><rect x="94" y="516" width="3" height="25" fill="#f23645"/><rect x="98" y="541" width="3" height="12" fill="#f23645"/><rect x="102" y="552" width="3" height="10" fill="#f23645"/><rect x="106" y="555" width="3" height="1" fill="#f23645"/><rect x="111" y="555" width="3" height="6" fill="#f23645"/><rect x="115" y="556" width="3" height="5" fill="#1e6b2a"/><rect x="119" y="502" width="3" height="55" fill="#1e6b2a"/><rect x="123" y="502" width="3" height="10" fill="#f23645"/><rect x="126" y="502" width="3" height="10" fill="#1e6b2a"/><rect x="130" y="497" width="3" height="3" fill="#f23645"/><rect x="135" y="499" width="3" height="7" fill="#f23645"/><rect x="139" y="502" width="3" height="2" fill="#1e6b2a"/><rect x="143" y="503" width="3" height="17" fill="#f23645"/><rect x="147" y="517" width="3" height="3" fill="#1e6b2a"/><rect x="151" y="516" width="3" height="2" fill="#f23645"/><rect x="156" y="509" width="3" height="1" fill="#f23645"/><rect x="160" y="509" width="3" height="1" fill="#f23645"/><rect x="164" y="510" width="3" height="8" fill="#f23645"/><rect x="168" y="515" width="3" height="3" fill="#1e6b2a"/><rect x="171" y="515" width="3" height="15" fill="#f23645"/><rect x="176" y="519" width="3" height="11" fill="#1e6b2a"/><rect x="180" y="500" width="3" height="6" fill="#1e6b2a"/><rect x="184" y="501" width="3" height="9" fill="#f23645"/><rect x="188" y="508" width="3" height="1" fill="#1e6b2a"/><rect x="192" y="510" width="3" height="42" fill="#f23645"/><rect x="197" y="551" width="3" height="21" fill="#f23645"/><rect x="201" y="568" width="3" height="4" fill="#1e6b2a"/><rect x="205" y="551" width="3" height="5" fill="#f23645"/><rect x="209" y="554" width="3" height="4" fill="#f23645"/><rect x="213" y="555" width="3" height="7" fill="#f23645"/><rect x="217" y="561" width="3" height="10" fill="#f23645"/><rect x="221" y="566" width="3" height="5" fill="#1e6b2a"/><rect x="225" y="564" width="3" height="2" fill="#1e6b2a"/><rect x="229" y="559" width="3" height="7" fill="#1e6b2a"/><rect x="233" y="558" width="3" height="1" fill="#1e6b2a"/><rect x="237" y="558" width="3" height="7" fill="#f23645"/><rect x="242" y="551" width="3" height="15" fill="#1e6b2a"/><rect x="246" y="551" width="3" height="22" fill="#f23645"/><rect x="250" y="572" width="3" height="15" fill="#f23645"/><rect x="254" y="569" width="3" height="2" fill="#f23645"/><rect x="258" y="570" width="3" height="5" fill="#f23645"/><rect x="263" y="574" width="3" height="10" fill="#f23645"/><rect x="267" y="583" width="3" height="1" fill="#1e6b2a"/><rect x="271" y="583" width="3" height="13" fill="#f23645"/><rect x="274" y="594" width="3" height="1" fill="#f23645"/><rect x="278" y="577" width="3" height="1" fill="#1e6b2a"/><rect x="283" y="577" width="3" height="1" fill="#f23645"/><rect x="287" y="577" width="3" height="7" fill="#f23645"/><rect x="291" y="583" width="3" height="15" fill="#f23645"/><rect x="295" y="565" width="3" height="33" fill="#1e6b2a"/><rect x="299" y="565" width="3" height="13" fill="#f23645"/><rect x="304" y="547" width="3" height="13" fill="#1e6b2a"/><rect x="308" y="547" width="3" height="4" fill="#f23645"/><rect x="312" y="549" width="3" height="10" fill="#f23645"/><rect x="316" y="558" width="3" height="29" fill="#f23645"/><rect x="320" y="547" width="3" height="40" fill="#1e6b2a"/><rect x="324" y="548" width="3" height="2" fill="#f23645"/><rect x="328" y="533" width="3" height="5" fill="#f23645"/><rect x="332" y="530" width="3" height="7" fill="#1e6b2a"/><rect x="336" y="530" width="3" height="9" fill="#f23645"/><rect x="340" y="539" width="3" height="10" fill="#f23645"/><rect x="344" y="548" width="3" height="1" fill="#1e6b2a"/><rect x="349" y="544" width="3" height="4" fill="#1e6b2a"/><rect x="353" y="525" width="3" height="14" fill="#1e6b2a"/><rect x="357" y="526" width="3" height="5" fill="#f23645"/><rect x="361" y="528" width="3" height="3" fill="#1e6b2a"/><rect x="365" y="518" width="3" height="12" fill="#1e6b2a"/><rect x="369" y="518" width="3" height="1" fill="#1e6b2a"/><rect x="373" y="510" width="3" height="11" fill="#f23645"/><rect x="377" y="516" width="3" height="5" fill="#1e6b2a"/><rect x="381" y="509" width="3" height="8" fill="#1e6b2a"/><rect x="385" y="512" width="3" height="47" fill="#f23645"/><rect x="390" y="509" width="3" height="50" fill="#1e6b2a"/><rect x="394" y="505" width="3" height="4" fill="#1e6b2a"/><rect x="398" y="500" width="3" height="1" fill="#1e6b2a"/><rect x="402" y="499" width="3" height="3" fill="#1e6b2a"/><rect x="406" y="499" width="3" height="7" fill="#f23645"/><rect x="410" y="491" width="3" height="14" fill="#1e6b2a"/><rect x="415" y="492" width="3" height="31" fill="#f23645"/><rect x="419" y="523" width="3" height="1" fill="#1e6b2a"/><rect x="423" y="513" width="3" height="3" fill="#1e6b2a"/><rect x="426" y="513" width="3" height="11" fill="#f23645"/><rect x="430" y="515" width="3" height="9" fill="#1e6b2a"/><rect x="435" y="481" width="3" height="35" fill="#1e6b2a"/><rect x="439" y="468" width="3" height="14" fill="#1e6b2a"/><rect x="443" y="468" width="3" height="5" fill="#f23645"/><rect x="447" y="459" width="3" height="5" fill="#1e6b2a"/><rect x="451" y="460" width="3" height="3" fill="#f23645"/><rect x="456" y="451" width="3" height="11" fill="#1e6b2a"/><rect x="460" y="450" width="3" height="5" fill="#f23645"/><rect x="464" y="455" width="3" height="3" fill="#f23645"/><rect x="468" y="452" width="3" height="5" fill="#1e6b2a"/><rect x="472" y="465" width="3" height="14" fill="#f23645"/><rect x="476" y="477" width="3" height="1" fill="#1e6b2a"/><rect x="480" y="474" width="3" height="5" fill="#1e6b2a"/><rect x="484" y="474" width="3" height="11" fill="#f23645"/><rect x="488" y="484" width="3" height="8" fill="#f23645"/><rect x="492" y="490" width="3" height="11" fill="#f23645"/><rect x="497" y="484" width="3" height="6" fill="#f23645"/><rect x="501" y="489" width="3" height="3" fill="#f23645"/><rect x="505" y="483" width="3" height="10" fill="#1e6b2a"/><rect x="509" y="465" width="3" height="20" fill="#1e6b2a"/><rect x="513" y="459" width="3" height="6" fill="#1e6b2a"/><rect x="517" y="458" width="3" height="11" fill="#f23645"/><rect x="521" y="457" width="3" height="3" fill="#f23645"/><rect x="525" y="457" width="3" height="3" fill="#1e6b2a"/><rect x="529" y="458" width="3" height="2" fill="#f23645"/><rect x="533" y="448" width="3" height="12" fill="#1e6b2a"/><rect x="537" y="439" width="3" height="9" fill="#1e6b2a"/><rect x="542" y="440" width="3" height="4" fill="#f23645"/><rect x="546" y="432" width="3" height="1" fill="#1e6b2a"/><rect x="550" y="431" width="3" height="1" fill="#1e6b2a"/><rect x="554" y="431" width="3" height="13" fill="#f23645"/><rect x="558" y="439" width="3" height="4" fill="#1e6b2a"/><rect x="563" y="392" width="3" height="48" fill="#1e6b2a"/><rect x="567" y="393" width="3" height="15" fill="#f23645"/><rect x="571" y="392" width="3" height="3" fill="#1e6b2a"/><rect x="575" y="391" width="3" height="2" fill="#1e6b2a"/><rect x="578" y="390" width="3" height="3" fill="#f23645"/><rect x="583" y="388" width="3" height="5" fill="#1e6b2a"/><rect x="587" y="388" width="3" height="32" fill="#f23645"/><rect x="591" y="419" width="3" height="3" fill="#f23645"/><rect x="595" y="415" width="3" height="7" fill="#f23645"/><rect x="599" y="422" width="3" height="3" fill="#f23645"/><rect x="603" y="420" width="3" height="5" fill="#1e6b2a"/><rect x="608" y="398" width="3" height="23" fill="#1e6b2a"/><rect x="612" y="387" width="3" height="11" fill="#1e6b2a"/><rect x="616" y="385" width="3" height="3" fill="#1e6b2a"/><rect x="620" y="373" width="3" height="4" fill="#1e6b2a"/><rect x="624" y="372" width="3" height="2" fill="#f23645"/><rect x="628" y="373" width="3" height="12" fill="#f23645"/><rect x="632" y="363" width="3" height="22" fill="#1e6b2a"/><rect x="636" y="362" width="3" height="28" fill="#f23645"/><rect x="640" y="390" width="3" height="12" fill="#f23645"/><rect x="644" y="388" width="3" height="1" fill="#1e6b2a"/><rect x="649" y="383" width="3" height="5" fill="#1e6b2a"/><rect x="653" y="383" width="3" height="5" fill="#f23645"/><rect x="657" y="382" width="3" height="6" fill="#1e6b2a"/><rect x="661" y="382" width="3" height="16" fill="#f23645"/><rect x="665" y="396" width="3" height="14" fill="#f23645"/><rect x="669" y="396" width="3" height="3" fill="#1e6b2a"/><rect x="674" y="396" width="3" height="2" fill="#1e6b2a"/><rect x="677" y="396" width="3" height="5" fill="#f23645"/><rect x="681" y="400" width="3" height="13" fill="#f23645"/><rect x="685" y="392" width="3" height="22" fill="#1e6b2a"/><rect x="689" y="390" width="3" height="3" fill="#1e6b2a"/><rect x="694" y="375" width="3" height="5" fill="#f23645"/><rect x="698" y="376" width="3" height="4" fill="#1e6b2a"/><rect x="702" y="376" width="3" height="5" fill="#f23645"/><rect x="706" y="378" width="3" height="3" fill="#1e6b2a"/><rect x="710" y="316" width="3" height="62" fill="#1e6b2a"/><rect x="715" y="316" width="3" height="2" fill="#f23645"/><rect x="719" y="294" width="3" height="6" fill="#1e6b2a"/><rect x="722" y="293" width="3" height="1" fill="#1e6b2a"/><rect x="726" y="290" width="3" height="3" fill="#1e6b2a"/><rect x="730" y="261" width="3" height="30" fill="#1e6b2a"/><rect x="735" y="255" width="3" height="6" fill="#1e6b2a"/><rect x="739" y="248" width="3" height="8" fill="#1e6b2a"/><rect x="743" y="232" width="3" height="5" fill="#1e6b2a"/><rect x="747" y="230" width="3" height="2" fill="#1e6b2a"/><rect x="751" y="222" width="3" height="9" fill="#1e6b2a"/><rect x="756" y="222" width="3" height="22" fill="#f23645"/><rect x="760" y="243" width="3" height="26" fill="#f23645"/><rect x="764" y="262" width="3" height="5" fill="#1e6b2a"/><rect x="768" y="243" width="3" height="7" fill="#1e6b2a"/><rect x="772" y="243" width="3" height="1" fill="#1e6b2a"/><rect x="775" y="231" width="3" height="13" fill="#1e6b2a"/><rect x="780" y="231" width="3" height="1" fill="#f23645"/><rect x="784" y="232" width="3" height="22" fill="#f23645"/><rect x="788" y="249" width="3" height="5" fill="#1e6b2a"/><rect x="792" y="225" width="3" height="10" fill="#1e6b2a"/><rect x="796" y="225" width="3" height="6" fill="#f23645"/><rect x="801" y="218" width="3" height="13" fill="#1e6b2a"/><rect x="805" y="218" width="3" height="20" fill="#f23645"/><rect x="809" y="238" width="3" height="36" fill="#f23645"/><rect x="813" y="273" width="3" height="6" fill="#f23645"/><rect x="817" y="265" width="3" height="7" fill="#f23645"/><rect x="821" y="272" width="3" height="2" fill="#f23645"/><rect x="825" y="264" width="3" height="10" fill="#1e6b2a"/><rect x="829" y="212" width="3" height="52" fill="#1e6b2a"/><rect x="833" y="189" width="3" height="23" fill="#1e6b2a"/><rect x="837" y="189" width="3" height="2" fill="#f23645"/><rect x="842" y="187" width="3" height="11" fill="#f23645"/><rect x="846" y="189" width="3" height="9" fill="#1e6b2a"/><rect x="850" y="186" width="3" height="3" fill="#1e6b2a"/><rect x="854" y="174" width="3" height="12" fill="#1e6b2a"/><rect x="858" y="174" width="3" height="12" fill="#f23645"/><rect x="863" y="185" width="3" height="1" fill="#1e6b2a"/><rect x="867" y="172" width="3" height="6" fill="#f23645"/><rect x="871" y="170" width="3" height="7" fill="#1e6b2a"/><rect x="874" y="170" width="3" height="10" fill="#f23645"/><rect x="878" y="167" width="3" height="13" fill="#1e6b2a"/><rect x="882" y="167" width="3" height="13" fill="#f23645"/><rect x="887" y="179" width="3" height="8" fill="#f23645"/><rect x="891" y="171" width="3" height="1" fill="#1e6b2a"/><rect x="895" y="171" width="3" height="4" fill="#f23645"/><rect x="899" y="160" width="3" height="14" fill="#1e6b2a"/><rect x="903" y="138" width="3" height="24" fill="#1e6b2a"/><rect x="908" y="137" width="3" height="31" fill="#f23645"/><rect x="912" y="162" width="3" height="6" fill="#1e6b2a"/><rect x="916" y="144" width="3" height="9" fill="#1e6b2a"/><rect x="920" y="145" width="3" height="9" fill="#f23645"/><rect x="924" y="151" width="3" height="3" fill="#1e6b2a"/><rect x="928" y="126" width="3" height="27" fill="#1e6b2a"/><rect x="932" y="127" width="3" height="5" fill="#f23645"/><rect x="936" y="131" width="3" height="2" fill="#f23645"/><rect x="940" y="121" width="3" height="4" fill="#f23645"/><rect x="944" y="122" width="3" height="2" fill="#1e6b2a"/><rect x="949" y="124" width="3" height="1" fill="#f23645"/><rect x="953" y="125" width="3" height="19" fill="#f23645"/><rect x="957" y="143" width="3" height="20" fill="#f23645"/><rect x="961" y="162" width="3" height="16" fill="#f23645"/><rect x="965" y="171" width="3" height="7" fill="#f23645"/><rect x="969" y="175" width="3" height="1" fill="#1e6b2a"/><rect x="973" y="167" width="3" height="9" fill="#1e6b2a"/><rect x="977" y="167" width="3" height="23" fill="#f23645"/><rect x="981" y="189" width="3" height="13" fill="#f23645"/><rect x="985" y="202" width="3" height="11" fill="#f23645"/><rect x="989" y="195" width="3" height="4" fill="#1e6b2a"/><rect x="994" y="195" width="3" height="2" fill="#1e6b2a"/><rect x="998" y="188" width="3" height="7" fill="#1e6b2a"/><rect x="1002" y="187" width="3" height="12" fill="#f23645"/><rect x="1006" y="194" width="3" height="5" fill="#1e6b2a"/><rect x="1010" y="195" width="3" height="19" fill="#f23645"/><rect x="1015" y="199" width="3" height="8" fill="#f23645"/><rect x="1019" y="202" width="3" height="5" fill="#1e6b2a"/><rect x="1023" y="203" width="3" height="4" fill="#f23645"/><rect x="1026" y="206" width="3" height="11" fill="#f23645"/><rect x="1030" y="216" width="3" height="17" fill="#f23645"/><rect x="1035" y="232" width="3" height="8" fill="#f23645"/><rect x="1039" y="224" width="3" height="1" fill="#1e6b2a"/><rect x="1043" y="224" width="3" height="1" fill="#f23645"/><rect x="1047" y="223" width="3" height="1" fill="#1e6b2a"/><rect x="1051" y="224" width="3" height="9" fill="#f23645"/><rect x="1055" y="221" width="3" height="12" fill="#1e6b2a"/><rect x="1060" y="218" width="3" height="4" fill="#1e6b2a"/><rect x="1064" y="202" width="3" height="1" fill="#1e6b2a"/><rect x="1068" y="201" width="3" height="1" fill="#f23645"/><rect x="1071" y="200" width="3" height="4" fill="#1e6b2a"/><rect x="1075" y="200" width="3" height="23" fill="#f23645"/><rect x="1080" y="223" width="3" height="7" fill="#f23645"/><rect x="1084" y="229" width="3" height="11" fill="#f23645"/><rect x="1088" y="235" width="3" height="9" fill="#f23645"/><rect x="1092" y="243" width="3" height="2" fill="#f23645"/><rect x="1096" y="243" width="3" height="5" fill="#f23645"/><rect x="1101" y="247" width="3" height="17" fill="#f23645"/><rect x="1105" y="264" width="3" height="18" fill="#f23645"/><rect x="1109" y="280" width="3" height="16" fill="#f23645"/><rect x="1113" y="282" width="3" height="4" fill="#f23645"/><rect x="1117" y="285" width="3" height="4" fill="#f23645"/><rect x="1121" y="289" width="3" height="4" fill="#f23645"/><rect x="1125" y="264" width="3" height="28" fill="#1e6b2a"/><rect x="1129" y="264" width="3" height="1" fill="#1e6b2a"/><rect x="1133" y="262" width="3" height="17" fill="#f23645"/><rect x="1137" y="264" width="3" height="4" fill="#f23645"/><rect x="1142" y="266" width="3" height="1" fill="#1e6b2a"/><rect x="1146" y="265" width="3" height="5" fill="#f23645"/><rect x="1150" y="270" width="3" height="16" fill="#f23645"/><rect x="1154" y="285" width="3" height="24" fill="#f23645"/><rect x="1158" y="308" width="3" height="4" fill="#f23645"/><rect x="1162" y="296" width="3" height="4" fill="#1e6b2a"/><rect x="1166" y="295" width="3" height="4" fill="#f23645"/><rect x="1170" y="299" width="3" height="1" fill="#f23645"/><rect x="1174" y="298" width="3" height="3" fill="#1e6b2a"/><rect x="1178" y="299" width="3" height="11" fill="#f23645"/><rect x="1182" y="309" width="3" height="4" fill="#f23645"/><rect x="1187" y="295" width="3" height="5" fill="#1e6b2a"/><rect x="1191" y="293" width="3" height="1" fill="#1e6b2a"/><rect x="1195" y="292" width="3" height="12" fill="#f23645"/><rect x="1199" y="302" width="3" height="21" fill="#f23645"/><rect x="1203" y="321" width="3" height="5" fill="#f23645"/><rect x="1208" y="326" width="3" height="7" fill="#f23645"/><rect x="1212" y="325" width="3" height="8" fill="#1e6b2a"/><rect x="1216" y="324" width="3" height="1" fill="#f23645"/><rect x="1219" y="312" width="3" height="13" fill="#1e6b2a"/><rect x="1223" y="298" width="3" height="14" fill="#1e6b2a"/><rect x="1228" y="301" width="3" height="2" fill="#f23645"/><rect x="1232" y="279" width="3" height="23" fill="#1e6b2a"/><rect x="1236" y="268" width="3" height="5" fill="#f23645"/><rect x="1240" y="272" width="3" height="4" fill="#f23645"/><rect x="1244" y="273" width="3" height="4" fill="#1e6b2a"/></g>
</g>
<g fill="#ebedf2" shape-rendering="crispEdges"><rect x="9" y="26" width="1482" height="2"/><rect x="9" y="797" width="1482" height="2"/><rect x="9" y="26" width="2" height="773"/><rect x="1489" y="26" width="2" height="773"/></g>
<rect x="10" y="533" width="1" height="6" fill="#f23645" opacity="0.8"/>
<g transform="translate(1245.6,757.9)"><circle r="9.6" fill="#fff" stroke="#9c27b0" stroke-width="1.7"/><path d="M3.1,-5.1 L-4.0,0.3 L-0.6,0.6 L-3.4,5.1 L4.1,-0.5 L0.6,-0.8 Z" fill="#9c27b0" stroke="#9c27b0" stroke-width="0.35" stroke-linejoin="round"/></g>
<g transform="translate(1323.6,757.5)"><defs><clipPath id="fl"><circle r="8.3"/></clipPath></defs><circle r="10.1" fill="#fff" stroke="#f23645" stroke-opacity="0.9" stroke-width="1.6"/><g clip-path="url(#fl)"><rect x="-9" y="-9" width="18" height="18" fill="#fff"/><rect x="-9" y="-7.4" width="18" height="2.7" fill="#ef5350"/><rect x="-9" y="-2" width="18" height="3.5" fill="#ef5350"/><rect x="-9" y="4.2" width="18" height="3.4" fill="#ef5350"/><rect x="-9" y="-9" width="10.9" height="10.5" fill="#1e88e5"/><g stroke="#bbdefb" stroke-width="0.7" stroke-dasharray="1.1 0.5"><line x1="-6.5" y1="-5.3" x2="1" y2="-5.3"/><line x1="-7.5" y1="-3" x2="1" y2="-3"/><line x1="-7" y1="-0.5" x2="1" y2="-0.5"/></g><g stroke="#90caf9" stroke-width="0.5"><line x1="-5.2" y1="-7" x2="-5.2" y2="1"/><line x1="-3.2" y1="-8" x2="-3.2" y2="1"/><line x1="-1.2" y1="-8" x2="-1.2" y2="1"/></g></g></g>
</svg>
<style>.fw{position:absolute;white-space:nowrap;line-height:14px;transform-origin:0 0;display:inline-block;will-change:transform;}</style>
<span class="fw" id="h0" style="left:10.1px;top:7.5px;font-size:12px;transform:scaleX(0.9560);">joodabas1995</span><span class="fw" id="h1" style="left:85.3px;top:7.5px;font-size:12px;transform:scaleX(0.9941);">published</span><span class="fw" id="h2" style="left:140.8px;top:7.5px;font-size:12px;transform:scaleX(0.8615);">on</span><span class="fw" id="h3" style="left:156.0px;top:7.5px;font-size:12px;transform:scaleX(0.9600);">TradingView.com,</span><span class="fw" id="h4" style="left:252.8px;top:7.5px;font-size:12px;transform:scaleX(1.0105);">Oct</span><span class="fw" id="h5" style="left:276.0px;top:7.5px;font-size:12px;transform:scaleX(0.8118);">22,</span><span class="fw" id="h6" style="left:294.1px;top:7.5px;font-size:12px;transform:scaleX(0.9296);">2024</span><span class="fw" id="h7" style="left:324.0px;top:7.5px;font-size:12px;transform:scaleX(0.9655);">11:41</span><span class="fw" id="h8" style="left:356.0px;top:7.5px;font-size:12px;transform:scaleX(0.8763);">UTC+3</span>
<span class="fw" id="t0" style="left:18.1px;top:34px;font-size:12px;transform:scaleX(0.7471);">US</span><span class="fw" id="t1" style="left:35.2px;top:34px;font-size:12px;transform:scaleX(0.9154);">Natural</span><span class="fw" id="t2" style="left:77.2px;top:34px;font-size:12px;transform:scaleX(0.7818);">Gas</span><span class="fw" id="t3" style="left:100.7px;top:34px;font-size:12px;transform:scaleX(0.9212);">(Spot)</span><span class="fw" id="t4" style="left:136.5px;top:34px;font-size:12px;transform:scaleX(0.8476);">(XNGUSD),</span><span class="fw" id="t5" style="left:194.0px;top:34px;font-size:12px;transform:scaleX(0.9706);">4h,</span><span class="fw" id="t6" style="left:214.4px;top:34px;font-size:12px;transform:scaleX(0.8388);">FXOPEN</span><span class="fw" id="t7" style="left:262.8px;top:34px;font-size:12px;transform:scaleX(0.8444);">O</span><span class="fw" id="t8" style="left:271.0px;top:34px;font-size:12px;transform:scaleX(0.9400); color:#2e7d32;">2.828</span><span class="fw" id="t9" style="left:306.8px;top:34px;font-size:12px;transform:scaleX(0.7667);">H</span><span class="fw" id="t10" style="left:314.5px;top:34px;font-size:12px;transform:scaleX(0.9400); color:#2e7d32;">2.842</span><span class="fw" id="t11" style="left:351.2px;top:34px;font-size:12px;transform:scaleX(0.7429);">L</span><span class="fw" id="t12" style="left:357.2px;top:34px;font-size:12px;transform:scaleX(0.9400); color:#2e7d32;">2.820</span><span class="fw" id="t13" style="left:392.8px;top:34px;font-size:12px;transform:scaleX(0.8333);">C</span><span class="fw" id="t14" style="left:400.7px;top:34px;font-size:12px;transform:scaleX(0.9133); color:#2e7d32;">2.833</span><span class="fw" id="t15" style="left:436.1px;top:34px;font-size:12px;transform:scaleX(0.9351); color:#2e7d32;">+0.004</span><span class="fw" id="t16" style="left:474.9px;top:34px;font-size:12px;transform:scaleX(0.9041); color:#2e7d32;">(+0.14%)</span><span class="fw" id="t17" style="left:526.6px;top:34px;font-size:12px;transform:scaleX(0.9243); color:#2e7d32;">+0.012</span><span class="fw" id="t18" style="left:565.6px;top:34px;font-size:12px;transform:scaleX(0.8939); color:#2e7d32;">(+0.43%)</span>
<div class="pl" style="top:95.0px">3.200</div>
<div class="pl" style="top:141.9px">3.100</div>
<div class="pl" style="top:188.9px">3.000</div>
<div class="pl" style="top:235.8px">2.900</div>
<div class="pl" style="top:282.8px">2.800</div>
<div class="pl" style="top:329.7px">2.700</div>
<div class="pl" style="top:376.7px">2.600</div>
<div class="pl" style="top:423.6px">2.500</div>
<div class="pl" style="top:470.6px">2.400</div>
<div class="pl" style="top:517.5px">2.300</div>
<div class="pl" style="top:564.5px">2.200</div>
<div class="pl" style="top:611.4px">2.100</div>
<div class="pl" style="top:658.4px">2.000</div>
<div class="pl" style="top:705.3px">1.900</div>
<div class="pl" style="top:752.2px">1.800</div>
<div style="position:absolute;left:1428.5px;top:29.5px;width:58px;height:27px;border:1.5px solid #e9ebf1;border-radius:5px;box-sizing:border-box;background:#fff;"></div>
<span class="fw" id="u0" style="left:1438.3px;top:36.6px;font-size:12px;transform:scaleX(0.8360);">USD</span>
<div class="tag" style="top:195px;background:#f23645;">2.984</div>
<div class="tag" style="top:266px;height:30px;width:59px;background:#388e3c;line-height:14px;padding-top:1.3px;">2.833<br><span style="font-weight:normal;letter-spacing:0;color:#dcecdc;-webkit-text-stroke:0.3px #dcecdc">01:18:30</span></div>
<div class="tag" style="top:296px;background:#2962ff;">2.831</div>
<div class="tag" style="top:338px;background:#089981;">2.679</div>
<div id="clipx">
<span class="fw" id="x0" style="left:-8.6px;top:6.8px;font-size:12px;transform:scaleX(0.9154);">13</span><span class="fw" id="x1" style="left:90.0px;top:6.8px;font-size:12px;transform:scaleX(0.9846);">19</span><span class="fw" id="x2" style="left:213.0px;top:6.8px;font-size:12px;transform:scaleX(1.0154);">26</span><span class="fw" id="x3" style="left:333.0px;top:6.8px;font-size:12px;transform:scaleX(0.9429); -webkit-text-stroke:0.45px #131722;">Sep</span><span class="fw" id="x4" style="left:459.0px;top:6.8px;font-size:12px;transform:scaleX(0.9286);">9</span><span class="fw" id="x5" style="left:579.0px;top:6.8px;font-size:12px;transform:scaleX(0.9846);">16</span><span class="fw" id="x6" style="left:702.3px;top:6.8px;font-size:12px;transform:scaleX(0.9923);">23</span><span class="fw" id="x7" style="left:846.3px;top:6.8px;font-size:12px;transform:scaleX(1.0789); -webkit-text-stroke:0.45px #131722;">Oct</span><span class="fw" id="x8" style="left:951.7px;top:6.8px;font-size:12px;transform:scaleX(1.0143);">7</span><span class="fw" id="x9" style="left:1072.3px;top:6.8px;font-size:12px;transform:scaleX(0.9923);">14</span><span class="fw" id="x10" style="left:1195.7px;top:6.8px;font-size:12px;transform:scaleX(0.8846);">21</span><span class="fw" id="x11" style="left:1318.3px;top:6.8px;font-size:12px;transform:scaleX(1.0385);">28</span>
</div>
<svg style="position:absolute;left:10px;top:809px" width="19" height="10" viewBox="0 0 36 18"><path fill="#131722" d="M14 18H7V7H0V0h14v18zM35.5 0L28 18h-8l7.5-18h8zM20.5 7a3.5 3.5 0 1 0 0-7 3.5 3.5 0 0 0 0 7z"/></svg>
<span class="fw" id="v0" style="left:33.2px;top:807.8px;font-size:12px;transform:scaleX(1.0348); color:#363a45;">TradingView</span>
</body></html>
